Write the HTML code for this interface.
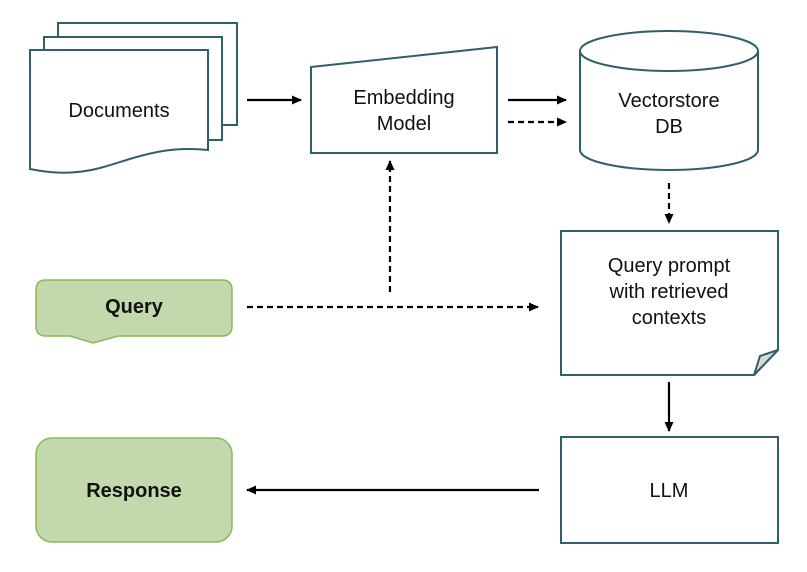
<!DOCTYPE html>
<html><head><meta charset="utf-8"><style>
html,body{margin:0;padding:0;background:#fff;}
svg{display:block;}
text{font-family:"Liberation Sans",sans-serif;font-size:20px;fill:#111;}
</style></head><body>
<svg width="807" height="572" viewBox="0 0 807 572" xmlns="http://www.w3.org/2000/svg">
<defs>
<marker id="ah" markerWidth="10" markerHeight="9" refX="9" refY="4.5" orient="auto" markerUnits="userSpaceOnUse">
<path d="M0,0 L10,4.5 L0,9 z" fill="#000"/></marker>
</defs>
<g stroke="#2f6069" stroke-width="2" fill="#fff">
<rect x="58" y="23" width="179" height="102"/>
<rect x="44" y="37" width="178" height="103"/>
<path d="M30,50 L208,50 L208,150 C160,145 130,160 100,168 C70,176 45,172 30,169 Z"/>
<path d="M311,67 L497,47 L497,153 L311,153 Z"/>
<path d="M580,51 L580,150 A89,20 0 0 0 758,150 L758,51"/>
<ellipse cx="669" cy="51" rx="89" ry="20"/>
<path d="M561,231 L778,231 L778,350 L754,375 L561,375 Z"/>
<path d="M754,375 L760,356 L778,350 Z" fill="#d9d9d9"/>
<rect x="561" y="437" width="217" height="106"/>
</g>
<path d="M46,280 L222,280 Q232,280 232,290 L232,326 Q232,336 222,336 L118,336 L93,343 L70,336 L46,336 Q36,336 36,326 L36,290 Q36,280 46,280 Z" fill="#c3d9ad" stroke="#8ab85a" stroke-width="1.5"/>
<rect x="36" y="438" width="196" height="104" rx="16" fill="#c3d9ad" stroke="#8ab85a" stroke-width="1.5"/>
<text x="119" y="117" text-anchor="middle">Documents</text>
<text x="404" y="104" text-anchor="middle">Embedding</text>
<text x="404" y="130" text-anchor="middle">Model</text>
<text x="669" y="107" text-anchor="middle">Vectorstore</text>
<text x="669" y="133" text-anchor="middle">DB</text>
<text x="669" y="272" text-anchor="middle">Query prompt</text>
<text x="669" y="298" text-anchor="middle">with retrieved</text>
<text x="669" y="324" text-anchor="middle">contexts</text>
<text x="669" y="497" text-anchor="middle">LLM</text>
<text x="134" y="313" text-anchor="middle" style="font-weight:bold">Query</text>
<text x="134" y="497" text-anchor="middle" style="font-weight:bold">Response</text>
<g stroke="#000" stroke-width="2.2" fill="none">
<line x1="247" y1="100" x2="301" y2="100" marker-end="url(#ah)"/>
<line x1="508" y1="100" x2="566" y2="100" marker-end="url(#ah)"/>
<line x1="508" y1="122" x2="566" y2="122" stroke-dasharray="6,4" marker-end="url(#ah)"/>
<line x1="669" y1="183" x2="669" y2="223" stroke-dasharray="6,4" marker-end="url(#ah)"/>
<line x1="247" y1="307" x2="538" y2="307" stroke-dasharray="6,4" marker-end="url(#ah)"/>
<line x1="390" y1="292" x2="390" y2="161" stroke-dasharray="6,4" marker-end="url(#ah)"/>
<line x1="669" y1="382" x2="669" y2="431" marker-end="url(#ah)"/>
<line x1="539" y1="490" x2="247" y2="490" marker-end="url(#ah)"/>
</g>
</svg>
</body></html>
